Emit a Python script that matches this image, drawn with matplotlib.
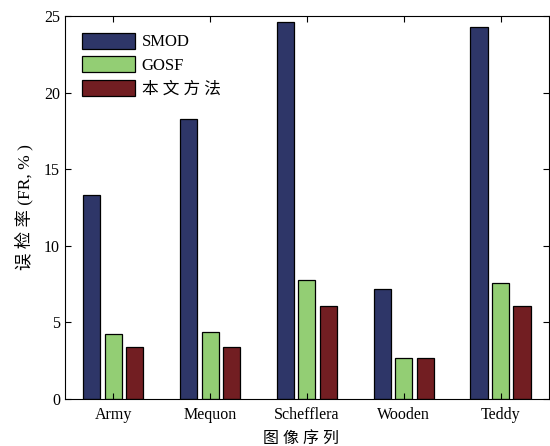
import matplotlib
matplotlib.use("Agg")
import matplotlib.pyplot as plt
import numpy as np

plt.rcParams["font.family"] = ["Liberation Serif", "Noto Sans CJK SC"]

images = ["Army", "Mequon", "Schefflera", "Wooden", "Teddy"]
smod = [13.3, 18.3, 24.6, 7.15, 24.3]
gosf = [4.25, 4.4, 7.75, 2.7, 7.6]
ours = [3.4, 3.4, 6.05, 2.65, 6.05]

series = [("SMOD", smod, "#2E3668"), ("GOSF", gosf, "#93CE74"), ("本 文 方 法", ours, "#721E22")]

fig = plt.figure(figsize=(5.5, 4.46), dpi=100)
ax = fig.add_axes([0.118, 0.1054, 0.88, 0.8587])

x = np.arange(1, len(images) + 1)
pitch = 0.222
width = 0.176
for i, (name, vals, color) in enumerate(series):
    ax.bar(x + (i - 1) * pitch, vals, width, color=color, edgecolor="black",
           linewidth=0.9, label=name)

ax.set_xlim(0.5, 5.5)
ax.set_ylim(0, 25)
ax.set_xticks(x)
ax.set_xticklabels(images)
ax.set_yticks([0, 5, 10, 15, 20, 25])
ax.tick_params(direction="in", top=True, right=True, labelsize=11.5, length=4)
ax.tick_params(axis="x", pad=6)
ax.set_xlabel("图 像 序 列", fontsize=11.5, labelpad=8)
ax.xaxis.set_label_coords(0.488, -0.085)
ax.set_ylabel("误 检 率 (FR, % )", fontsize=12.5, labelpad=8)

ax.legend(loc="upper left", frameon=False, fontsize=12, handlelength=3.2,
          handleheight=1.1, labelspacing=0.35, handletextpad=0.4,
          borderaxespad=0.6, bbox_to_anchor=(0.0, 1.0))

fig.savefig("out.png", dpi=100)
